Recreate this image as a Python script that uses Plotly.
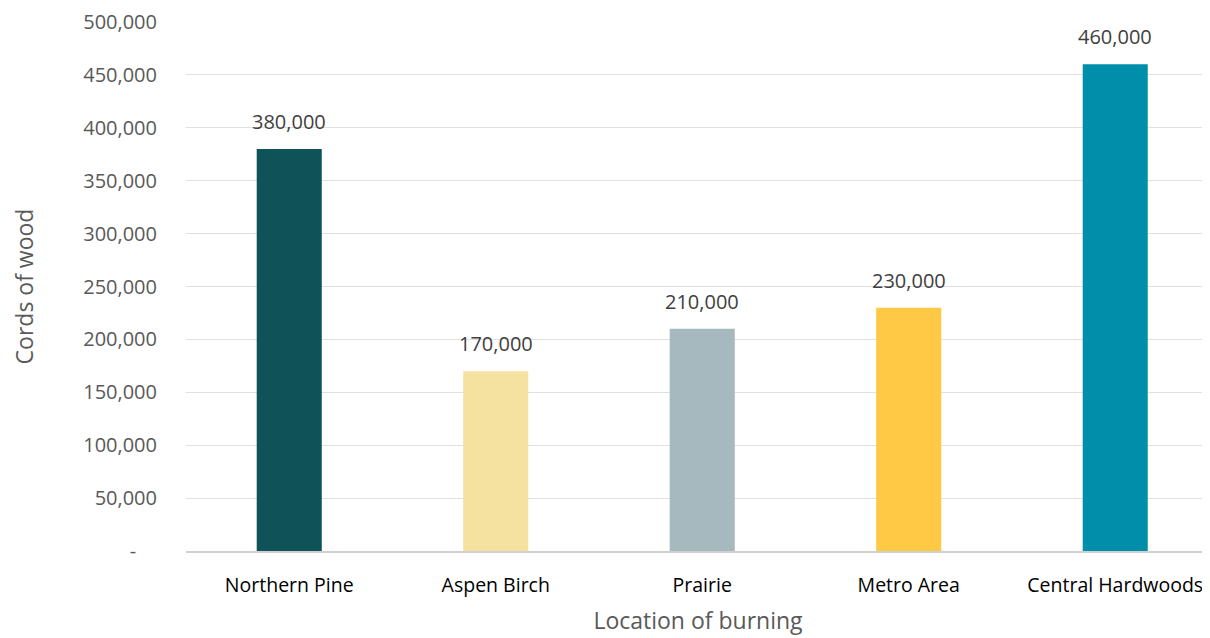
import plotly.graph_objects as go

categories = ["Northern Pine", "Aspen Birch", "Prairie", "Metro Area", "Central Hardwoods"]
values = [380000, 170000, 210000, 230000, 460000]
colors = ["#0F5257", "#F5E1A0", "#A5B9BE", "#FFC845", "#008EAA"]
tick_vals = [0, 50000, 100000, 150000, 200000, 250000, 300000, 350000, 400000, 450000, 500000]
tick_text = ["-\u00a0\u00a0\u00a0\u00a0", "50,000", "100,000", "150,000", "200,000", "250,000", "300,000",
             "350,000", "400,000", "450,000", "500,000"]

FONT = "Open Sans"

fig = go.Figure()
fig.add_trace(go.Bar(
    x=list(range(len(categories))), y=values,
    marker=dict(color=colors, line=dict(width=0)),
    width=0.315,
    hoverinfo="skip",
))

for i, v in enumerate(values):
    fig.add_annotation(x=i, y=v, text=f"{v:,}", showarrow=False,
                       yanchor="bottom", yshift=12,
                       font=dict(family=FONT, size=20, color="#404040"))

fig.update_layout(
    width=1202, height=630,
    margin=dict(l=178, r=0, t=12, b=87),
    paper_bgcolor="white", plot_bgcolor="white",
    showlegend=False,
    font=dict(family=FONT),
    xaxis=dict(
        range=[-0.5, 4.459],
        tickmode="array", tickvals=list(range(len(categories))), ticktext=categories,
        tickfont=dict(family=FONT, size=19.5, color="#000000"),
        ticks="outside", ticklen=16, tickcolor="rgba(0,0,0,0)",
        ticklabeloverflow="allow",
        showgrid=False, showline=True, linecolor="#d0d0d0", linewidth=1.5,
        zeroline=False,
        title=dict(text="Location of burning", font=dict(family=FONT, size=23, color="#595959"), standoff=16),
    ),
    yaxis=dict(
        range=[0, 500000],
        tickmode="array", tickvals=tick_vals, ticktext=tick_text,
        tickfont=dict(family=FONT, size=20, color="#595959"),
        ticks="outside", ticklen=24, tickcolor="rgba(0,0,0,0)",
        ticklabeloverflow="allow",
        showgrid=True, gridcolor="#e0e0e0", gridwidth=1.2,
        zeroline=False, showline=False,
        title=dict(text="Cords of wood", font=dict(family=FONT, size=23, color="#595959"), standoff=46),
    ),
)

fig.write_html("out.html")
